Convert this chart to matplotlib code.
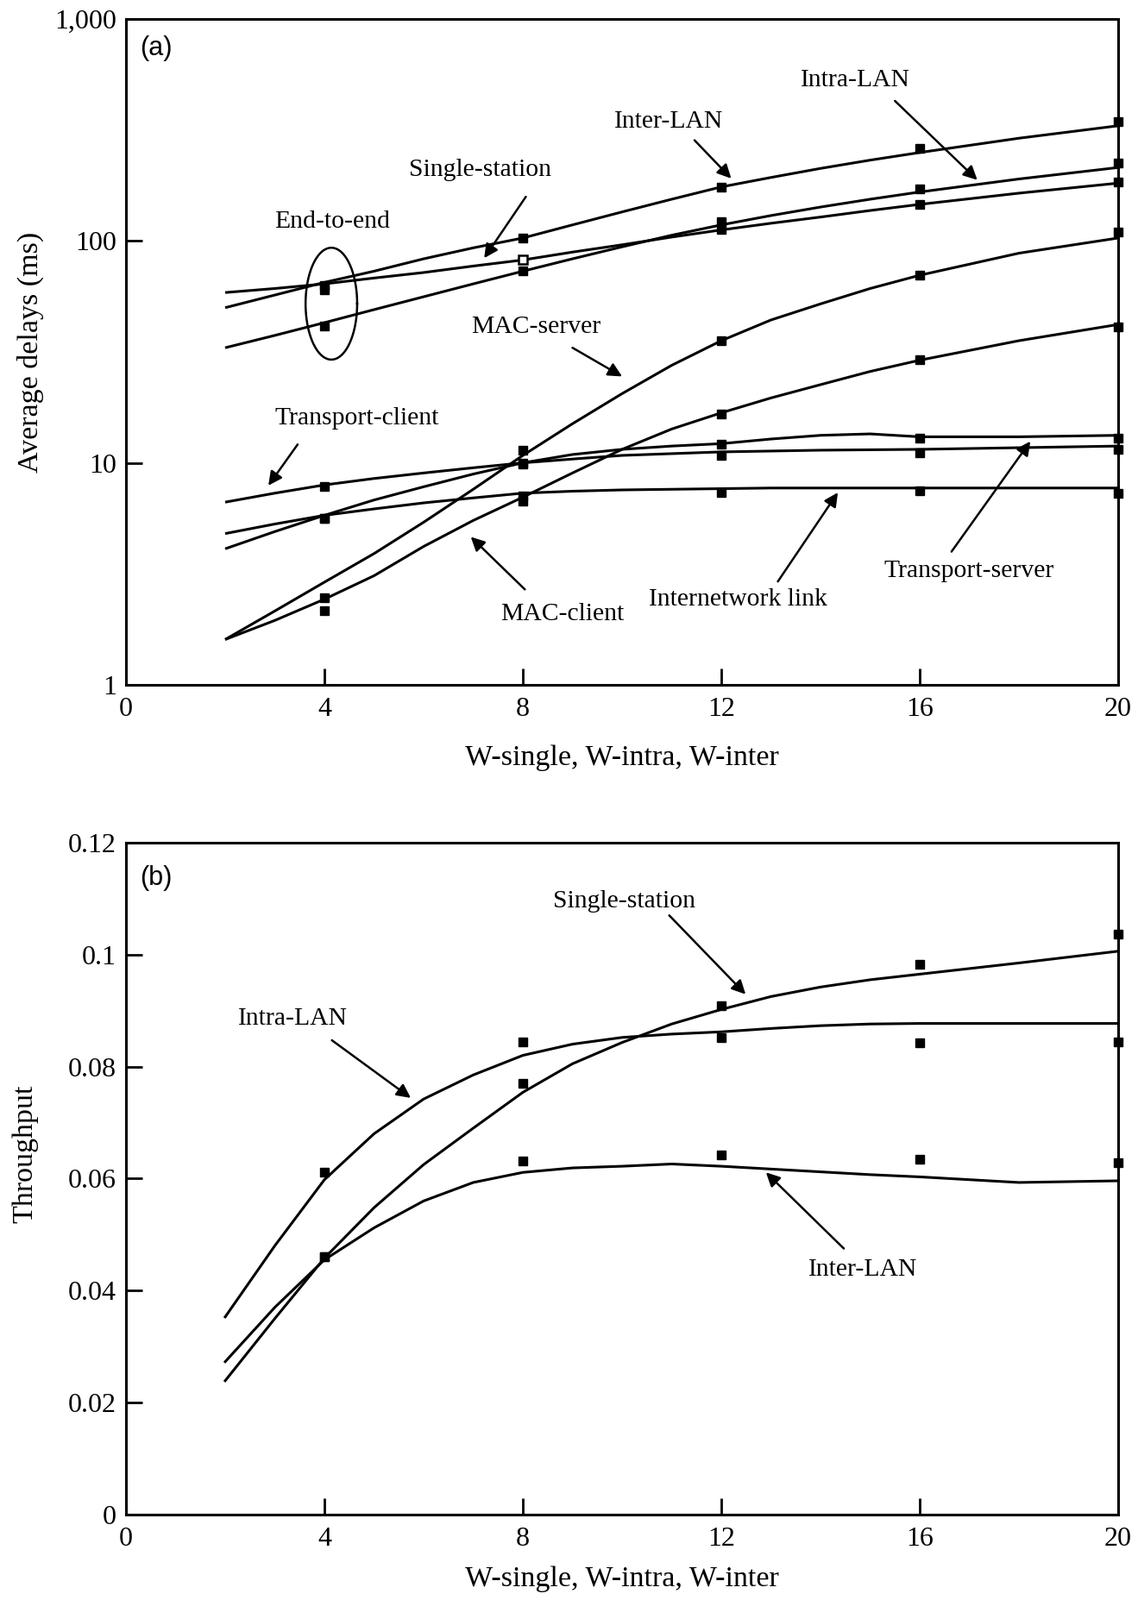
import matplotlib
matplotlib.use('Agg')
import matplotlib.pyplot as plt
from matplotlib.ticker import NullLocator
import numpy as np

plt.rcParams['font.family'] = ['Liberation Serif', 'DejaVu Serif']

# ---------------- Panel (a): average delays (log scale) ----------------
x_line_a = [2, 3, 4, 5, 6, 7, 8, 9, 10, 11, 12, 13, 14, 15, 16, 18, 20]
inter_lan_a = [50, 57, 65, 73, 83, 93, 103, 118, 135, 154, 175, 193, 212, 231, 250, 290, 330]
single_station_a = [58.5, 61, 64, 68, 72, 77, 82, 89, 96, 104, 112, 120, 128, 137, 146, 164, 182]
intra_lan_a = [33, 37.5, 42.8, 49, 56, 64, 73, 83, 94, 106, 118, 130, 142, 154, 166, 190, 214]
mac_server = [1.6, 2.15, 2.9, 3.9, 5.4, 7.6, 10.8, 15, 20.5, 27.5, 35.5, 44, 52, 61, 70, 88, 103]
mac_client = [1.6, 1.95, 2.43, 3.1, 4.2, 5.5, 7.0, 9.0, 11.5, 14.2, 16.8, 19.6, 22.5, 25.8, 29, 35.5, 42]
transport_server = [4.1, 4.9, 5.8, 6.8, 7.8, 8.9, 10.0, 10.9, 11.5, 11.9, 12.2, 12.8, 13.3, 13.5, 13.1, 13.1, 13.3]
transport_client = [6.65, 7.3, 7.95, 8.5, 9.0, 9.5, 10.0, 10.4, 10.8, 11.0, 11.2, 11.3, 11.4, 11.45, 11.5, 11.7, 11.9]
internetwork = [4.8, 5.3, 5.8, 6.2, 6.6, 6.95, 7.3, 7.45, 7.55, 7.6, 7.65, 7.7, 7.7, 7.7, 7.7, 7.7, 7.7]

x_meas = [4, 8, 12, 16, 20]
inter_lan_a_m = [63, 103, 174, 261, 344]
single_station_a_m = [60, 82, 113, 146, 184]
intra_lan_a_m = [41.5, 73, 122, 171, 224]
mac_server_m = [2.15, 11.4, 35.5, 70, 110]
mac_client_m = [2.46, 6.7, 16.6, 29.2, 41]
transport_server_m = [5.6, 10.0, 12.1, 12.9, 12.9]
transport_client_m = [7.8, 9.9, 10.8, 11.1, 11.5]
internetwork_m = [5.6, 7.1, 7.35, 7.45, 7.3]

# ---------------- Panel (b): throughput ----------------
x_line_b = [2, 3, 4, 5, 6, 7, 8, 9, 10, 11, 12, 13, 14, 15, 16, 18, 20]
intra_lan_b = [0.0353, 0.0480, 0.0598, 0.0680, 0.0742, 0.0785, 0.0820, 0.0840, 0.0852, 0.0858, 0.0862,
               0.0868, 0.0873, 0.0876, 0.0877, 0.0877, 0.0877]
single_station_b = [0.0239, 0.0350, 0.0458, 0.0548, 0.0625, 0.0690, 0.0754, 0.0805, 0.0843, 0.0876, 0.0902,
                    0.0925, 0.0942, 0.0955, 0.0965, 0.0985, 0.1006]
inter_lan_b = [0.0273, 0.0370, 0.0455, 0.0512, 0.0560, 0.0593, 0.0611, 0.0619, 0.0622, 0.0626, 0.0622,
               0.0617, 0.0612, 0.0607, 0.0603, 0.0593, 0.0596]

intra_lan_b_m = [0.0611, 0.0844, 0.0852, 0.0842, 0.0844]
single_station_b_m = [0.0461, 0.0770, 0.0909, 0.0983, 0.1037]
inter_lan_b_m = [0.0461, 0.0632, 0.0642, 0.0634, 0.0629]

x_ticks = [0, 4, 8, 12, 16, 20]
x_tick_labels = ['0', '4', '8', '12', '16', '20']
ya_ticks = [1, 10, 100, 1000]
ya_tick_labels = ['1', '10', '100', '1,000']
yb_ticks = [0, 0.02, 0.04, 0.06, 0.08, 0.1, 0.12]
yb_tick_labels = ['0', '0.02', '0.04', '0.06', '0.08', '0.1', '0.12']
x_label = 'W-single, W-intra, W-inter'

LW = 2.2
MS = 6.5
ANN_FS = 21.3
TICK_FS = 23
LABEL_FS = 24.5
arrow_kw = dict(arrowstyle='-|>', color='black', lw=1.8, mutation_scale=24,
                shrinkA=0, shrinkB=0)

fig = plt.figure(figsize=(13.19, 18.55), dpi=100)
ax1 = fig.add_axes([0.1107, 0.5720, 0.8719, 0.4162])
ax2 = fig.add_axes([0.1107, 0.0534, 0.8719, 0.4200])


def style(ax):
    for s in ax.spines.values():
        s.set_linewidth(2.2)
        s.set_color('black')
    ax.tick_params(axis='both', which='major', direction='in', length=14, width=2,
                   labelsize=TICK_FS, top=False, right=False, colors='black')
    ax.tick_params(axis='x', pad=10)
    ax.tick_params(axis='y', pad=8)
    ax.set_xlim(0, 20)
    ax.set_xticks(x_ticks)
    ax.set_xticklabels(x_tick_labels)


# ---- panel (a)
style(ax1)
ax1.set_yscale('log')
ax1.set_ylim(1, 1000)
ax1.set_yticks(ya_ticks)
ax1.set_yticklabels(ya_tick_labels)
ax1.yaxis.set_minor_locator(NullLocator())

for series in [inter_lan_a, single_station_a, intra_lan_a, mac_server, mac_client,
               transport_server, transport_client, internetwork]:
    ax1.plot(x_line_a, series, color='black', lw=LW, solid_capstyle='butt')

for series in [inter_lan_a_m, intra_lan_a_m, mac_server_m, mac_client_m,
               transport_server_m, transport_client_m, internetwork_m]:
    ax1.plot(x_meas, series, 's', color='black', ms=MS, clip_on=False, zorder=5)
# single-station measurements: open marker at x=8
ax1.plot([x_meas[0]] + x_meas[2:], [single_station_a_m[0]] + single_station_a_m[2:], 's',
         color='black', ms=MS, clip_on=False, zorder=5)
ax1.plot([x_meas[1]], [single_station_a_m[1]], 's', mfc='white', mec='black', mew=1.8,
         ms=MS, zorder=6)

# End-to-end ellipse (annotation shape)
t = np.linspace(0, 2 * np.pi, 300)
ax1.plot(4.14 + 0.52 * np.cos(t), 10 ** (1.717 + 0.252 * np.sin(t)), color='black', lw=1.8)

ax1.text(0.014, 0.975, '(a)', transform=ax1.transAxes, fontsize=22,
         family=['Liberation Sans', 'DejaVu Sans'], va='top', ha='left')

ax1.text(4.15, 122, 'End-to-end', fontsize=ANN_FS, ha='center', va='center')
ax1.text(7.13, 209, 'Single-station', fontsize=ANN_FS, ha='center', va='center')
ax1.annotate('', xy=(7.22, 83.6), xytext=(8.06, 158), arrowprops=arrow_kw)
ax1.text(10.94, 344, 'Inter-LAN', fontsize=ANN_FS, ha='center', va='center')
ax1.annotate('', xy=(12.2, 191), xytext=(11.46, 284), arrowprops=arrow_kw)
ax1.text(14.7, 531, 'Intra-LAN', fontsize=ANN_FS, ha='center', va='center')
ax1.annotate('', xy=(17.16, 188), xytext=(15.5, 427), arrowprops=arrow_kw)
ax1.text(8.27, 41, 'MAC-server', fontsize=ANN_FS, ha='center', va='center')
ax1.annotate('', xy=(10.0, 24.5), xytext=(9.0, 33), arrowprops=arrow_kw)
ax1.text(4.66, 15.8, 'Transport-client', fontsize=ANN_FS, ha='center', va='center')
ax1.annotate('', xy=(2.87, 7.9), xytext=(3.46, 12.1), arrowprops=arrow_kw)
ax1.text(8.8, 2.08, 'MAC-client', fontsize=ANN_FS, ha='center', va='center')
ax1.annotate('', xy=(6.95, 4.64), xytext=(8.04, 2.69), arrowprops=arrow_kw)
ax1.text(12.33, 2.43, 'Internetwork link', fontsize=ANN_FS, ha='center', va='center')
ax1.annotate('', xy=(14.35, 7.35), xytext=(13.14, 2.92), arrowprops=arrow_kw)
ax1.text(17.0, 3.27, 'Transport-server', fontsize=ANN_FS, ha='center', va='center')
ax1.annotate('', xy=(18.23, 12.5), xytext=(16.64, 3.98), arrowprops=arrow_kw)

ax1.set_ylabel('Average delays (ms)', fontsize=LABEL_FS)
ax1.yaxis.set_label_coords(-0.083, 0.5)
ax1.set_xlabel(x_label, fontsize=LABEL_FS)
ax1.xaxis.set_label_coords(0.5, -0.09)

# ---- panel (b)
style(ax2)
ax2.set_ylim(0, 0.12)
ax2.set_yticks(yb_ticks)
ax2.set_yticklabels(yb_tick_labels)

for series in [intra_lan_b, single_station_b, inter_lan_b]:
    ax2.plot(x_line_b, series, color='black', lw=LW)
for series in [intra_lan_b_m, single_station_b_m, inter_lan_b_m]:
    ax2.plot(x_meas, series, 's', color='black', ms=MS, clip_on=False, zorder=5)

ax2.text(0.014, 0.967, '(b)', transform=ax2.transAxes, fontsize=22,
         family=['Liberation Sans', 'DejaVu Sans'], va='top', ha='left')
ax2.text(10.04, 0.1095, 'Single-station', fontsize=ANN_FS, ha='center', va='center')
ax2.annotate('', xy=(12.49, 0.0929), xytext=(10.95, 0.1070), arrowprops=arrow_kw)
ax2.text(3.36, 0.0885, 'Intra-LAN', fontsize=ANN_FS, ha='center', va='center')
ax2.annotate('', xy=(5.74, 0.0744), xytext=(4.15, 0.0847), arrowprops=arrow_kw)
ax2.text(14.85, 0.0437, 'Inter-LAN', fontsize=ANN_FS, ha='center', va='center')
ax2.annotate('', xy=(12.9, 0.0611), xytext=(14.47, 0.0475), arrowprops=arrow_kw)

ax2.set_ylabel('Throughput', fontsize=LABEL_FS)
ax2.yaxis.set_label_coords(-0.088, 0.537)
ax2.set_xlabel(x_label, fontsize=LABEL_FS)
ax2.xaxis.set_label_coords(0.5, -0.077)

fig.savefig('out.png', dpi=100, facecolor='white')
